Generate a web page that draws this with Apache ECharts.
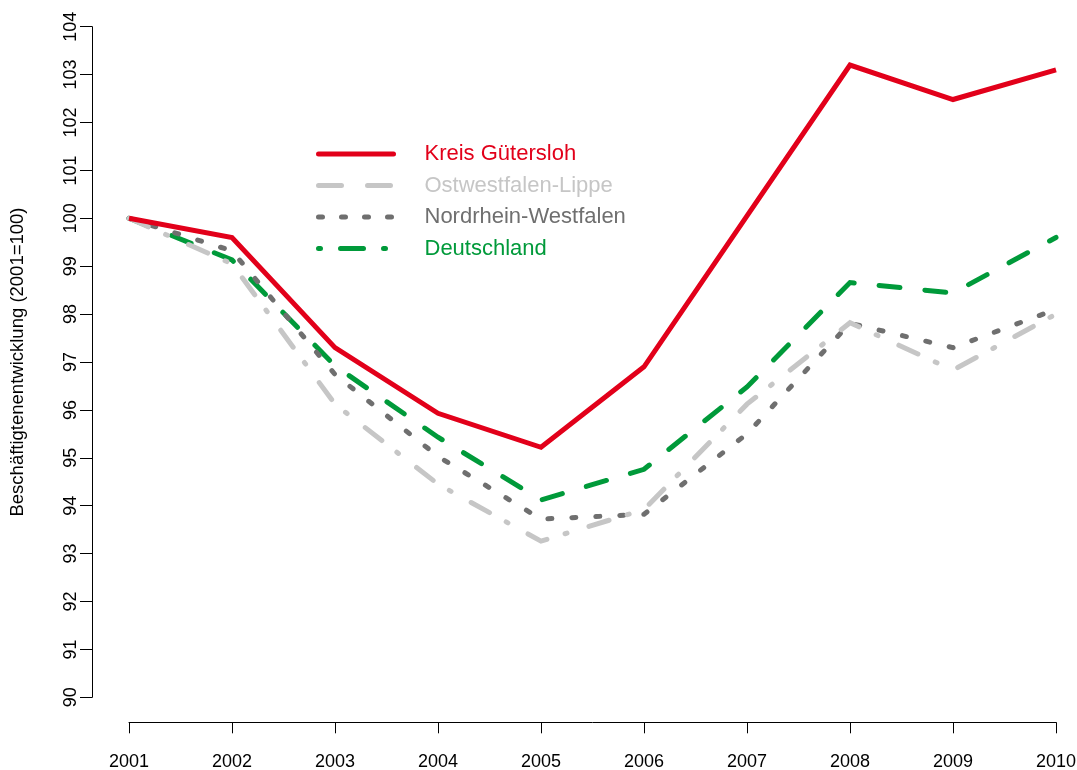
<!DOCTYPE html>
<html>
<head>
<meta charset="utf-8">
<script src="https://cdn.jsdelivr.net/npm/echarts@6/dist/echarts.min.js"></script>
<style>
  html, body { margin: 0; padding: 0; background: #fff; }
  #chart { width: 1077px; height: 770px; }
</style>
</head>
<body>
<div id="chart"></div>
<script>
// Beschäftigtenentwicklung, Index 2001 = 100
const years = [2001, 2002, 2003, 2004, 2005, 2006, 2007, 2008, 2009, 2010];
const kreisGuetersloh   = [100, 99.6, 97.3, 95.93, 95.22, 96.9, 100.05, 103.2, 102.48, 103.1];
const ostwestfalenLippe = [100, 99.05, 96.12, 94.45, 93.26, 93.92, 96.12, 97.82, 96.83, 98.0];
const nordrheinWestfalen = [100, 99.32, 96.74, 95.03, 93.72, 93.82, 95.5, 97.81, 97.3, 98.1];
const deutschland       = [100, 99.13, 96.92, 95.43, 94.12, 94.76, 96.48, 98.66, 98.44, 99.6];

const yTicks = { min: 90, max: 104, step: 1 };
const seriesNames = ['Kreis Gütersloh', 'Ostwestfalen-Lippe', 'Nordrhein-Westfalen', 'Deutschland'];

const colors = ['#e2001a', '#c6c6c6', '#6f6f6f', '#009a3a'];
const dashes = ['solid', [21, 19, 2, 23], [4, 20], [21, 25]];
const legendDashes = ['solid', [23, 26], [4, 19], [2, 20, 23, 20]];
const values = [kreisGuetersloh, ostwestfalenLippe, nordrheinWestfalen, deutschland];

const font = '"Liberation Sans", Arial, sans-serif';

const chart = echarts.init(document.getElementById('chart'), null, { renderer: 'canvas' });

chart.setOption({
  backgroundColor: '#ffffff',
  animation: false,
  grid: { left: 129, right: 21, top: 26.7, bottom: 72.7, containLabel: false, outerBoundsMode: 'none' },
  legend: {
    orient: 'vertical',
    left: 316,
    top: 143,
    padding: 0,
    itemWidth: 75,
    itemHeight: 22,
    itemGap: 9.5,
    itemStyle: { opacity: 0 },
    textStyle: { fontFamily: font, fontSize: 22, padding: [0, 0, 0, 26] },
    data: seriesNames.map((n, i) => ({
      name: n,
      textStyle: { color: colors[i] },
      lineStyle: { color: colors[i], width: 5, type: legendDashes[i], cap: 'round' }
    }))
  },
  xAxis: {
    type: 'value',
    min: years[0],
    max: years[years.length - 1],
    interval: 1,
    offset: 25,
    splitLine: { show: false },
    axisLine: { show: true, lineStyle: { color: '#000', width: 1 } },
    axisTick: { show: true, length: 11, lineStyle: { color: '#000' } },
    axisLabel: { fontFamily: font, fontSize: 18, color: '#000', margin: 31, formatter: v => String(v) }
  },
  yAxis: {
    type: 'value',
    min: yTicks.min,
    max: yTicks.max,
    interval: yTicks.step,
    offset: 37,
    name: 'Beschäftigtenentwicklung (2001=100)',
    nameLocation: 'middle',
    nameGap: 65,
    nameTextStyle: { fontFamily: font, fontSize: 18.5, color: '#000' },
    splitLine: { show: false },
    axisLine: { show: true, lineStyle: { color: '#000', width: 1 } },
    axisTick: { show: true, length: 12, lineStyle: { color: '#000' } },
    axisLabel: { fontFamily: font, fontSize: 18, color: '#000', rotate: 90, margin: 12 }
  },
  series: seriesNames.map((n, i) => ({
    name: n,
    type: 'line',
    data: years.map((y, j) => [y, values[i][j]]),
    symbol: 'none',
    z: 10 - i,
    lineStyle: { color: colors[i], width: 5, type: dashes[i], cap: i === 0 ? 'butt' : 'round', join: 'miter' },
    itemStyle: { color: colors[i] }
  }))
});
</script>
</body>
</html>
